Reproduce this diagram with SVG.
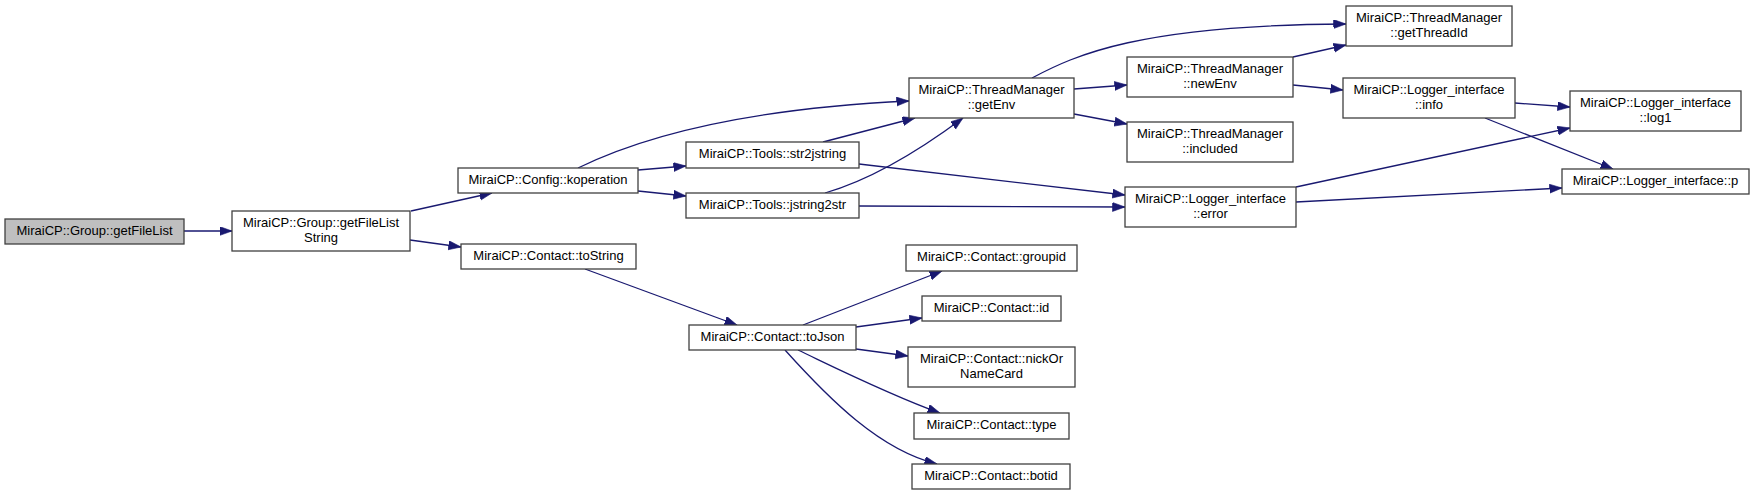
<svg xmlns="http://www.w3.org/2000/svg" width="1755" height="495" viewBox="0 0 1755 495">
<style>
.n rect{fill:#ffffff;stroke:#404040;stroke-width:1.3}
.n.root rect{fill:#bfbfbf}
.n text{font-family:"Liberation Sans",Arial,sans-serif;font-size:13px;fill:#000000;text-anchor:middle}
.e path{fill:none;stroke:#191970;stroke-width:1.3;marker-end:url(#ah)}
</style>
<defs>
<marker id="ah" markerUnits="userSpaceOnUse" markerWidth="13" markerHeight="10" refX="12.5" refY="4.5" orient="auto">
<path d="M0,0 L12.5,4.5 L0,9 z" fill="#191970" stroke="#191970" stroke-width="0.6"/>
</marker>
</defs>
<rect width="1755" height="495" fill="#ffffff"/>
<g id="edges" class="e">
<path d="M184,231 L232,231"/>
<path d="M411,211 L492,193"/>
<path d="M410,240 L461,247"/>
<path d="M578,168 C625,145 720,110 909,101"/>
<path d="M638,170 L686,166"/>
<path d="M638,191 L686,196"/>
<path d="M823,142 L915,118"/>
<path d="M825,193 C870,180 920,150 963,118"/>
<path d="M859,164 L1125,195"/>
<path d="M859,206 L1125,207"/>
<path d="M1032,78 C1075,55 1140,25 1346,24"/>
<path d="M1074,89 L1127,85"/>
<path d="M1074,114 L1127,124"/>
<path d="M1293,57 L1346,45"/>
<path d="M1293,85 L1343,90"/>
<path d="M1515,103 L1570,107"/>
<path d="M1485,118 L1613,169"/>
<path d="M1296,187 L1570,128"/>
<path d="M1296,202 L1562,188"/>
<path d="M585,269 L737,325"/>
<path d="M803,325 L942,271"/>
<path d="M856,327 L922,318"/>
<path d="M856,349 L908,356"/>
<path d="M798,350 C840,370 890,395 940,413"/>
<path d="M785,350 C830,400 880,450 937,464"/>
</g>
<g id="n_getFileList" class="n root"><rect x="5" y="219" width="179" height="25"/><text x="94.5" y="235">MiraiCP::Group::getFileList</text></g>
<g id="n_getFileListString" class="n"><rect x="232" y="211" width="178" height="40"/><text x="321" y="227">MiraiCP::Group::getFileList</text><text x="321" y="242">String</text></g>
<g id="n_koperation" class="n"><rect x="458" y="168" width="180" height="25"/><text x="548" y="184">MiraiCP::Config::koperation</text></g>
<g id="n_toString" class="n"><rect x="461" y="244" width="175" height="25"/><text x="548.5" y="260">MiraiCP::Contact::toString</text></g>
<g id="n_str2jstring" class="n"><rect x="686" y="142" width="173" height="26"/><text x="772.5" y="158">MiraiCP::Tools::str2jstring</text></g>
<g id="n_jstring2str" class="n"><rect x="686" y="193" width="173" height="25"/><text x="772.5" y="209">MiraiCP::Tools::jstring2str</text></g>
<g id="n_toJson" class="n"><rect x="689" y="325" width="167" height="25"/><text x="772.5" y="341">MiraiCP::Contact::toJson</text></g>
<g id="n_getEnv" class="n"><rect x="909" y="78" width="165" height="40"/><text x="991.5" y="94">MiraiCP::ThreadManager</text><text x="991.5" y="109">::getEnv</text></g>
<g id="n_error" class="n"><rect x="1125" y="187" width="171" height="40"/><text x="1210.5" y="203">MiraiCP::Logger_interface</text><text x="1210.5" y="218">::error</text></g>
<g id="n_newEnv" class="n"><rect x="1127" y="57" width="166" height="40"/><text x="1210" y="73">MiraiCP::ThreadManager</text><text x="1210" y="88">::newEnv</text></g>
<g id="n_included" class="n"><rect x="1127" y="122" width="166" height="40"/><text x="1210" y="138">MiraiCP::ThreadManager</text><text x="1210" y="153">::included</text></g>
<g id="n_getThreadId" class="n"><rect x="1346" y="6" width="166" height="40"/><text x="1429" y="22">MiraiCP::ThreadManager</text><text x="1429" y="37">::getThreadId</text></g>
<g id="n_info" class="n"><rect x="1343" y="78" width="172" height="40"/><text x="1429" y="94">MiraiCP::Logger_interface</text><text x="1429" y="109">::info</text></g>
<g id="n_log1" class="n"><rect x="1570" y="91" width="171" height="40"/><text x="1655.5" y="107">MiraiCP::Logger_interface</text><text x="1655.5" y="122">::log1</text></g>
<g id="n_p" class="n"><rect x="1562" y="169" width="187" height="25"/><text x="1655.5" y="185">MiraiCP::Logger_interface::p</text></g>
<g id="n_groupid" class="n"><rect x="906" y="245" width="171" height="26"/><text x="991.5" y="261">MiraiCP::Contact::groupid</text></g>
<g id="n_id" class="n"><rect x="922" y="296" width="139" height="25"/><text x="991.5" y="312">MiraiCP::Contact::id</text></g>
<g id="n_nickOrNameCard" class="n"><rect x="908" y="347" width="167" height="40"/><text x="991.5" y="363">MiraiCP::Contact::nickOr</text><text x="991.5" y="378">NameCard</text></g>
<g id="n_type" class="n"><rect x="914" y="413" width="155" height="26"/><text x="991.5" y="429">MiraiCP::Contact::type</text></g>
<g id="n_botid" class="n"><rect x="912" y="464" width="158" height="25"/><text x="991" y="480">MiraiCP::Contact::botid</text></g>
</svg>
